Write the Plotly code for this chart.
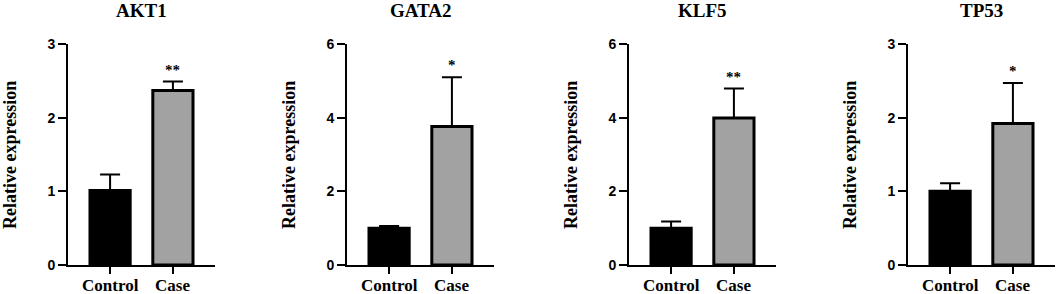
import plotly.graph_objects as go

W, H = 1059, 294

genes = ["AKT1", "GATA2", "KLF5", "TP53"]
groups = ["Control", "Case"]
means = {
    "AKT1": [1.01, 2.37],
    "GATA2": [1.00, 3.76],
    "KLF5": [1.00, 3.99],
    "TP53": [1.00, 1.92],
}
err_upper = {
    "AKT1": [0.22, 0.12],
    "GATA2": [0.06, 1.34],
    "KLF5": [0.18, 0.80],
    "TP53": [0.11, 0.55],
}
signif = {"AKT1": "**", "GATA2": "*", "KLF5": "**", "TP53": "*"}
ymax = {"AKT1": 3, "GATA2": 6, "KLF5": 6, "TP53": 3}
ytick_vals = {"AKT1": [0, 1, 2, 3], "GATA2": [0, 2, 4, 6], "KLF5": [0, 2, 4, 6], "TP53": [0, 1, 2, 3]}
bar_colors = ["#000000", "#A2A2A2"]

# layout (pixels)
axis_left_px = [68, 347, 629, 908]
plot_w_px = 147
top_px, bottom_px = 44, 265

fig = go.Figure()
layout = dict(
    width=W, height=H, margin=dict(l=0, r=0, t=0, b=0),
    paper_bgcolor="white", plot_bgcolor="white", showlegend=False,
)
annotations = []
serif = "Liberation Serif"
sans = "Liberation Sans"

for i, g in enumerate(genes):
    n = "" if i == 0 else str(i + 1)
    xa, ya = "x" + n, "y" + n
    x0 = axis_left_px[i] / W
    x1 = (axis_left_px[i] + plot_w_px) / W
    fig.add_trace(go.Bar(
        x=[0, 1], y=means[g], width=0.64, xaxis=xa, yaxis=ya,
        marker=dict(color=bar_colors, line=dict(color="black", width=3)),
        error_y=dict(type="data", array=err_upper[g], arrayminus=[0, 0], symmetric=False,
                     color="black", thickness=2, width=10),
    ))
    layout["xaxis" + n] = dict(
        domain=[x0, x1], anchor=ya, range=[-0.67, 1.67], automargin=False,
        tickvals=[0, 1], showticklabels=False,
        showline=True, linecolor="black", linewidth=2,
        ticks="outside", ticklen=7, tickwidth=2, tickcolor="black",
        showgrid=False, zeroline=False, fixedrange=True,
    )
    layout["yaxis" + n] = dict(
        domain=[1 - bottom_px / H, 1 - top_px / H], anchor=xa, range=[0, ymax[g]],
        automargin=False, tickvals=ytick_vals[g],
        showline=True, linecolor="black", linewidth=2,
        ticks="outside", ticklen=8, tickwidth=2, tickcolor="black",
        tickfont=dict(family=sans, size=14, color="black", weight="bold"),
        showgrid=False, zeroline=False, fixedrange=True,
    )
    # x tick labels (categories)
    for k, grp in enumerate(groups):
        annotations.append(dict(
            text=grp, xref=xa, yref="paper", x=k, y=1 - 285 / H,
            xanchor="center", yanchor="middle", showarrow=False,
            font=dict(family=serif, size=17, color="black", weight="bold"),
        ))
    # title
    annotations.append(dict(
        text=g, xref="paper", yref="paper", x=(x0 + x1) / 2, y=1 - 10 / H,
        xanchor="center", yanchor="middle", showarrow=False,
        font=dict(family=serif, size=19, color="black", weight="bold"),
    ))
    # y title
    annotations.append(dict(
        text="Relative expression", xref="paper", yref="paper",
        x=(axis_left_px[i] - 58) / W, y=1 - 155 / H, textangle=-90,
        xanchor="center", yanchor="middle", showarrow=False,
        font=dict(family=serif, size=18, color="black", weight="bold"),
    ))
    # significance
    annotations.append(dict(
        text=signif[g], xref=xa, yref=ya, x=1, y=means[g][1] + err_upper[g][1],
        xanchor="center", yanchor="bottom", yshift=2, showarrow=False,
        font=dict(family=serif, size=15, color="black", weight="bold"),
    ))

layout["annotations"] = annotations
fig.update_layout(**layout)
fig.write_html("out.html", config={"displayModeBar": False},
               post_script="document.body.style.margin='0';document.body.style.padding='0';")
